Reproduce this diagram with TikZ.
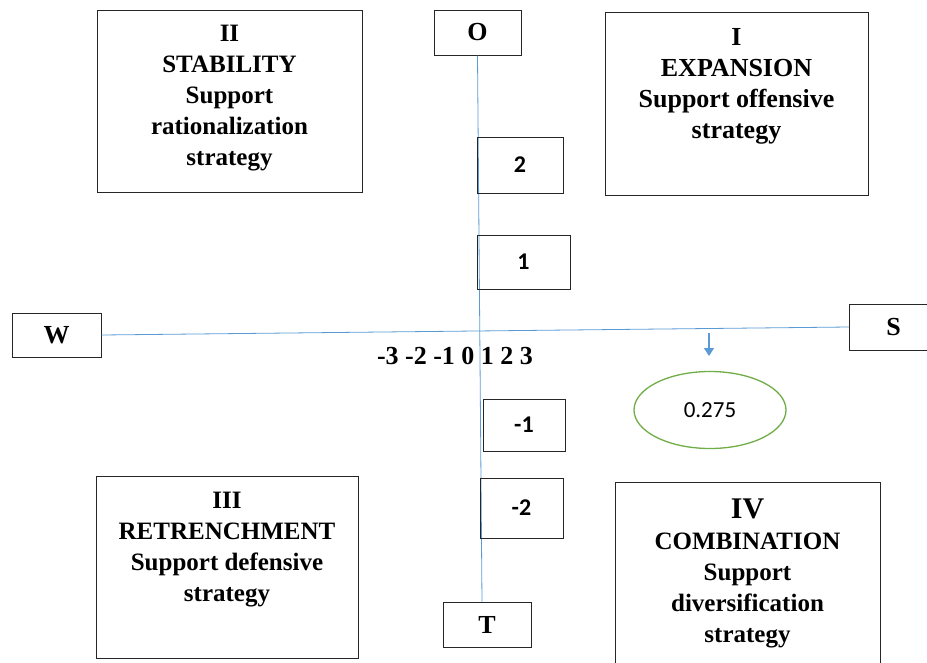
\documentclass[tikz,border=0pt]{standalone}
\usepackage{fontspec}
\setmainfont{Liberation Serif}
\newfontfamily\carlitofont{Carlito}
\usetikzlibrary{arrows.meta,shapes.geometric,calc}
\definecolor{axisblue}{HTML}{5B9BD5}
\definecolor{ellgreen}{HTML}{70AD47}
\begin{document}
\begin{tikzpicture}[x=1pt,y=-1pt,
  box/.style={draw=black!85,line width=1pt,inner sep=0pt},
  qtext/.style={font=\fontsize{25}{31}\selectfont\bfseries,align=center,inner sep=0pt,anchor=north},
  numbox/.style={box,font=\carlitofont\bfseries\fontsize{24}{26}\selectfont},
  endbox/.style={box,font=\fontsize{26}{28}\selectfont\bfseries},
  axis/.style={draw=axisblue,line width=0.8pt}]
\useasboundingbox (0,0) rectangle (927,662);
% quadrant boxes
\node[box,minimum width=265pt,minimum height=182pt] (q2) at (229.5,101) {};
\node[qtext] (t2) at (229.5,25) {II\\STABILITY\\Support\\rationalization\\strategy};
\node[box,minimum width=263pt,minimum height=183pt] (q1) at (736.5,103.5) {};
\node[qtext,font=\fontsize{26}{31}\selectfont\bfseries] (t1) at (736.5,28) {I\\EXPANSION\\Support offensive\\strategy};
\node[box,minimum width=262pt,minimum height=182pt] (q3) at (227,567) {};
\node[qtext] (t3) at (227,492) {III\\RETRENCHMENT\\Support defensive\\strategy};
\node[box,minimum width=265pt,minimum height=182pt] (q4) at (747.5,573) {};
\node[qtext] (t4) at (747.5,499) {{\fontsize{30}{31}\selectfont IV}\\COMBINATION\\Support\\diversification\\strategy};
% axis end boxes
\node[endbox,minimum width=87pt,minimum height=45pt] (O) at (477.5,32.5) {O};
\node[endbox,minimum width=88pt,minimum height=45pt] (T) at (487,624.5) {T};
\node[endbox,minimum width=89pt,minimum height=44pt] (W) at (56.5,335) {W};
\node[endbox,minimum width=80pt,minimum height=46pt,anchor=west] (S) at (849,327) {\hspace*{8pt}S};
% axes
\draw[axis] (O.south) -- ([xshift=-5pt]T.north);
\draw[axis] (W.east) -- (S.west);
% scale boxes
\node[numbox,minimum width=86pt,minimum height=56pt] (n2) at (520,165) {2};
\node[numbox,minimum width=93pt,minimum height=54pt] (n1) at (523.5,262) {1};
\node[numbox,minimum width=82pt,minimum height=52pt] (m1) at (524,425) {-1};
\node[numbox,minimum width=83pt,minimum height=60pt] (m2) at (521.5,508) {-2};
% horizontal scale
\node[font=\fontsize{26}{28}\selectfont\bfseries,inner sep=0pt] (hs) at (455,356) {-3 -2 -1 0 1 2 3};
% arrow and ellipse
\coordinate (a0) at (709,333);
\coordinate (a1) at (709,356);
\draw[draw=axisblue,line width=1.2pt,-{Triangle[width=10pt,length=8pt]},color=axisblue] (a0) -- (a1);
\node[ellipse,draw=ellgreen,line width=1.3pt,minimum width=152pt,minimum height=77pt,inner sep=0pt,font=\carlitofont\fontsize{23}{25}\selectfont] (e) at (710,410) {0.275};
\end{tikzpicture}
\end{document}
